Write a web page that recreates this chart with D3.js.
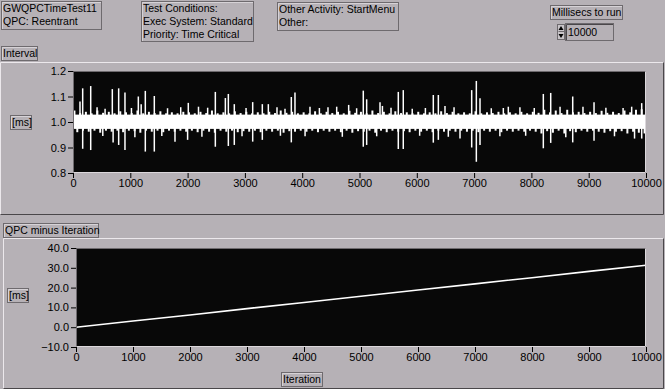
<!DOCTYPE html>
<html>
<head>
<meta charset="utf-8">
<script src="https://cdn.jsdelivr.net/npm/d3@7"></script>
<style>
  body { margin: 0; background: #b6b1b6; }
  svg { display: block; font-family: "Liberation Sans", Arial, sans-serif; font-size: 10.5px; }
</style>
</head>
<body>
<div id="panel"></div>
<script>
// ---- data ----
const xTicks = [0, 1000, 2000, 3000, 4000, 5000, 6000, 7000, 8000, 9000, 10000];
const intervalTicks = [0.8, 0.9, 1.0, 1.1, 1.2];
const qpcTicks = [-10, 0, 10, 20, 30, 40];

// solid centre of the interval trace [ms]
const bandCore = [0.973, 1.029];

// interval noise band, upper / lower edge per 100 iterations [ms]
const bandHi = [
  1.045, 1.035, 1.04, 1.034, 1.045, 1.036, 1.04, 1.034, 1.042, 1.038,
  1.035, 1.045, 1.034, 1.04, 1.035, 1.042, 1.034, 1.038, 1.034, 1.04,
  1.038, 1.034, 1.04, 1.035, 1.045, 1.034, 1.038, 1.034, 1.042, 1.035,
  1.04, 1.034, 1.038, 1.034, 1.04, 1.035, 1.045, 1.036, 1.04, 1.034,
  1.038, 1.034, 1.042, 1.034, 1.04, 1.035, 1.04, 1.034, 1.044, 1.036,
  1.04, 1.034, 1.045, 1.035, 1.04, 1.034, 1.042, 1.035, 1.038, 1.034,
  1.04, 1.034, 1.038, 1.034, 1.042, 1.035, 1.04, 1.034, 1.038, 1.034,
  1.042, 1.034, 1.038, 1.035, 1.04, 1.034, 1.038, 1.034, 1.04, 1.034,
  1.04, 1.036, 1.048, 1.038, 1.045, 1.035, 1.048, 1.038, 1.04, 1.035,
  1.04, 1.035, 1.044, 1.036, 1.04, 1.035, 1.045, 1.038, 1.048, 1.05
];
const bandLo = [
  0.96, 0.966, 0.962, 0.966, 0.958, 0.966, 0.962, 0.966, 0.96, 0.966,
  0.964, 0.958, 0.966, 0.962, 0.966, 0.96, 0.966, 0.962, 0.966, 0.962,
  0.966, 0.96, 0.966, 0.962, 0.958, 0.966, 0.962, 0.966, 0.96, 0.964,
  0.962, 0.966, 0.96, 0.966, 0.962, 0.966, 0.958, 0.964, 0.962, 0.966,
  0.962, 0.966, 0.96, 0.966, 0.962, 0.966, 0.96, 0.966, 0.958, 0.964,
  0.962, 0.966, 0.958, 0.966, 0.96, 0.966, 0.962, 0.964, 0.96, 0.966,
  0.962, 0.966, 0.96, 0.966, 0.962, 0.966, 0.962, 0.966, 0.962, 0.966,
  0.96, 0.966, 0.962, 0.966, 0.96, 0.966, 0.962, 0.966, 0.962, 0.966,
  0.962, 0.955, 0.964, 0.958, 0.966, 0.955, 0.964, 0.96, 0.966, 0.962,
  0.966, 0.962, 0.958, 0.964, 0.962, 0.964, 0.955, 0.962, 0.958, 0.955
];

// single outliers [iteration, ms]
const spikes = [
  [122, 1.08], [169, 1.132], [309, 1.141], [686, 1.129], [797, 1.132], [907, 1.116],
  [1140, 1.10], [1190, 1.07], [1262, 1.122], [1419, 1.102], [2012, 1.075], [2190, 1.06],
  [2484, 1.118], [2659, 1.094], [2711, 1.11], [2815, 1.07], [3136, 1.078], [3304, 1.07],
  [3409, 1.07], [3810, 1.098], [3874, 1.116], [4136, 1.06], [4602, 1.06], [4811, 1.067],
  [5066, 1.123], [5125, 1.089], [5358, 1.077], [5400, 1.063], [5677, 1.118], [5764, 1.125],
  [6288, 1.106], [6376, 1.106], [6492, 1.063], [6958, 1.125], [7039, 1.161], [7103, 1.093],
  [7510, 1.055], [7597, 1.06], [8208, 1.11], [8337, 1.114], [8500, 1.06], [8721, 1.10],
  [9093, 1.077], [9600, 1.055], [9925, 1.074],
  [169, 0.895], [309, 0.89], [700, 0.92], [797, 0.91], [907, 0.89], [1262, 0.884],
  [1419, 0.884], [1780, 0.923], [2000, 0.93], [2484, 0.903], [2711, 0.906], [2815, 0.91],
  [3136, 0.923], [3304, 0.93], [3810, 0.92], [5066, 0.903], [5125, 0.91], [5677, 0.894],
  [5764, 0.894], [6288, 0.919], [6376, 0.93], [6754, 0.935], [6958, 0.90], [7039, 0.844],
  [7103, 0.91], [8208, 0.897], [8337, 0.918], [8721, 0.92], [9093, 0.926], [9925, 0.935],
  // smaller excursions along the band
  [420, 1.058], [560, 1.052], [1020, 1.055], [1650, 1.054], [1880, 1.058], [2350, 1.056],
  [3020, 1.055], [3560, 1.058], [3700, 1.052], [4300, 1.055], [4450, 1.058], [4950, 1.054],
  [5550, 1.056], [5920, 1.052], [6150, 1.055], [6650, 1.058], [7300, 1.054], [7800, 1.058],
  [8050, 1.055], [8900, 1.06], [9300, 1.056], [9750, 1.06],
  [520, 0.945], [1080, 0.94], [1550, 0.945], [2250, 0.942], [2950, 0.944], [3620, 0.946],
  [4050, 0.944], [4700, 0.942], [5300, 0.944], [6050, 0.946], [6550, 0.942], [7450, 0.944],
  [7900, 0.946], [8600, 0.94], [9450, 0.944], [9800, 0.935]
];

// QPC minus iteration, every 1000 iterations [ms]
const qpcIter = [0, 1000, 2000, 3000, 4000, 5000, 6000, 7000, 8000, 9000, 10000];
const qpcMs = [0, 3.1, 6.2, 9.4, 12.5, 15.6, 18.8, 21.9, 25.0, 28.2, 31.3];

const W = 665, H = 389;
const bg = '#b6b1b6';
const light = '#ece8ec';
const dark = '#4a474a';

let svg = d3.select('#panel').append('svg')
    .attr('width', W)
    .attr('height', H);

svg.append('rect').attr('width', W).attr('height', H).attr('fill', bg);

// labelled box, lines of text
function labelBox(x, y, w, h, lines, opts) {
    opts = opts || {};
    let g = svg.append('g').attr('transform', 'translate(' + x + ',' + y + ')');
    g.append('rect')
        .attr('x', 0.5).attr('y', 0.5)
        .attr('width', w).attr('height', h)
        .attr('fill', opts.fill || bg)
        .attr('stroke', '#6e6a6e');
    g.append('path')
        .attr('d', 'M1.5,' + h + 'V1.5H' + w)
        .attr('fill', 'none')
        .attr('stroke', opts.inner || '#d6d2d6');
    lines.forEach(function (t, i) {
        g.append('text')
            .attr('x', opts.tx || 2)
            .attr('y', 11 + i * 13)
            .attr('fill', '#000')
            .text(t);
    });
    return g;
}

function panelFrame(x0, y0, x1, y1) {
    svg.append('path')
        .attr('d', 'M' + (x0 + 0.5) + ',' + (y1 - 0.5) + 'V' + (y0 + 0.5) + 'H' + (x1 - 0.5))
        .attr('fill', 'none').attr('stroke', light);
    svg.append('path')
        .attr('d', 'M' + (x1 - 0.5) + ',' + (y0 + 0.5) + 'V' + (y1 - 0.5) + 'H' + (x0 + 0.5))
        .attr('fill', 'none').attr('stroke', dark);
}

// ---- header controls ----
labelBox(1, 1, 100, 28, ['GWQPCTimeTest11', 'QPC: Reentrant']);
labelBox(141, 1, 112, 40, ['Test Conditions:', 'Exec System: Standard', 'Priority: Time Critical']);
labelBox(277, 2, 121, 28, ['Other Activity: StartMenu', 'Other:']);
labelBox(550, 5, 72, 14, ['Millisecs to run']);

// numeric control with spinner
let num = svg.append('g');
num.append('rect').attr('x', 565.5).attr('y', 23.5).attr('width', 48).attr('height', 17)
    .attr('fill', bg).attr('stroke', '#6e6a6e');
num.append('path').attr('d', 'M566.5,40V24.5H613').attr('fill', 'none').attr('stroke', dark);
num.append('text').attr('x', 568).attr('y', 36).text('10000');
num.append('rect').attr('x', 557.5).attr('y', 24.5).attr('width', 7).attr('height', 15)
    .attr('fill', '#c8c4c8').attr('stroke', '#6e6a6e');
num.append('path').attr('d', 'M558.5,31.5h6').attr('stroke', '#6e6a6e');
num.append('path').attr('d', 'M561,26L563.5,30H558.5Z').attr('fill', '#000');
num.append('path').attr('d', 'M561,38L563.5,34H558.5Z').attr('fill', '#000');

// ---- panels ----
panelFrame(0, 62, 664, 215);
panelFrame(3, 238, 664, 389);
labelBox(1, 46, 36, 14, ['Interval']);
labelBox(3, 223, 95, 14, ['QPC minus Iteration']);

function chart(x0, x1, y0, y1, yDomain, yTicks, yFmt, unitY) {
    let x = d3.scaleLinear().domain([0, 10000]).range([x0, x1]);
    let y = d3.scaleLinear().domain(yDomain).range([y1, y0]);

    svg.append('rect')
        .attr('x', x0).attr('y', y0)
        .attr('width', x1 - x0).attr('height', y1 - y0)
        .attr('fill', '#080808');

    let ya = svg.append('g')
        .attr('transform', 'translate(' + x0 + ',0)')
        .call(d3.axisLeft(y).tickValues(yTicks).tickSize(5).tickPadding(2).tickFormat(d3.format(yFmt)));
    let xa = svg.append('g')
        .attr('transform', 'translate(0,' + y1 + ')')
        .call(d3.axisBottom(x).tickValues(xTicks).tickSize(5).tickPadding(1).tickFormat(d3.format('d')));
    [ya, xa].forEach(function (a) {
        a.select('.domain').remove();
        a.selectAll('text').attr('fill', '#000')
            .style('font-family', '"Liberation Sans", Arial, sans-serif').style('font-size', '11px');
        a.selectAll('line').attr('stroke', '#000');
    });

    labelBox(unitY[0], unitY[1], 21, 14, ['[ms]']);
    return { x: x, y: y };
}

// interval chart
let c1 = chart(73, 646, 71, 173, [0.8, 1.2], intervalTicks, '.1f', [10, 115]);

let trace = svg.append('g');

// solid centre
trace.append('rect')
    .attr('x', c1.x(0)).attr('width', c1.x(10000) - c1.x(0))
    .attr('y', c1.y(bandCore[1])).attr('height', c1.y(bandCore[0]) - c1.y(bandCore[1]))
    .attr('fill', '#fff');

// ragged edges: upper excursion early in each bin, lower excursion late in it
let bins = d3.range(bandHi.length);
trace.selectAll('line.hi')
    .data(bins)
    .enter()
    .append('line')
    .attr('class', 'hi')
    .attr('x1', function (i) { return c1.x(i * 100 + 25); })
    .attr('x2', function (i) { return c1.x(i * 100 + 25); })
    .attr('y1', c1.y(1.0))
    .attr('y2', function (i) { return c1.y(bandHi[i]); })
    .attr('stroke', '#fff')
    .attr('stroke-width', 2);
trace.selectAll('line.lo')
    .data(bins)
    .enter()
    .append('line')
    .attr('class', 'lo')
    .attr('x1', function (i) { return c1.x(i * 100 + 75); })
    .attr('x2', function (i) { return c1.x(i * 100 + 75); })
    .attr('y1', c1.y(1.0))
    .attr('y2', function (i) { return c1.y(bandLo[i]); })
    .attr('stroke', '#fff')
    .attr('stroke-width', 2);

trace.selectAll('line.spike')
    .data(spikes)
    .enter()
    .append('line')
    .attr('class', 'spike')
    .attr('x1', function (d) { return c1.x(d[0]); })
    .attr('x2', function (d) { return c1.x(d[0]); })
    .attr('y1', c1.y(1.0))
    .attr('y2', function (d) { return c1.y(d[1]); })
    .attr('stroke', '#fff')
    .attr('stroke-width', 1.5);

// plot frame
svg.append('path').attr('d', 'M73.5,173V71.5H646').attr('fill', 'none').attr('stroke', '#6e6a6e');
svg.append('path').attr('d', 'M73.5,172.5H645.5V71.5').attr('fill', 'none').attr('stroke', '#dcd8dc');

// QPC chart
let c2 = chart(76, 646, 248, 347, [-10, 40], qpcTicks, '.1f', [7, 288]);

let line = d3.line()
    .x(function (d, i) { return c2.x(qpcIter[i]); })
    .y(function (d) { return c2.y(d); });

svg.append('path')
    .datum(qpcMs)
    .attr('d', line)
    .attr('fill', 'none')
    .attr('stroke', '#fff')
    .attr('stroke-width', 1.6);

svg.append('path').attr('d', 'M76.5,347V248.5H646').attr('fill', 'none').attr('stroke', '#6e6a6e');
svg.append('path').attr('d', 'M76.5,346.5H645.5V248.5').attr('fill', 'none').attr('stroke', '#dcd8dc');

labelBox(281, 372, 41, 14, ['Iteration']);
</script>
</body>
</html>
